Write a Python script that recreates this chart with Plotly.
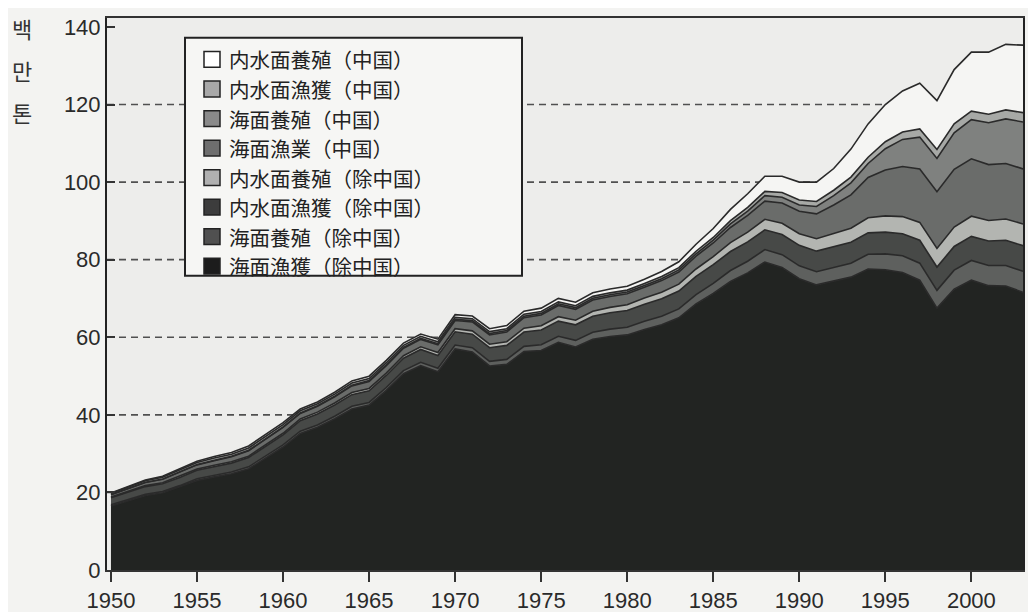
import plotly.graph_objects as go

years = list(range(1950, 2004))

# 海面漁獲(除中国)
marine_capture_nc = [16.5, 17.9, 19.2, 19.9, 21.4, 23.1, 24.0, 24.8, 26.1, 28.9,
                     31.7, 35.2, 36.8, 39.0, 41.5, 42.5, 46.3, 50.6, 52.7, 51.1,
                     57.0, 56.2, 52.6, 53.0, 56.3, 56.6, 58.7, 57.5, 59.5, 60.2,
                     60.6, 62.0, 63.2, 65.0, 68.6, 71.3, 74.4, 76.6, 79.4, 78.0,
                     75.1, 73.5, 74.5, 75.5, 77.6, 77.4, 76.7, 74.7, 67.5, 72.4,
                     74.7, 73.3, 73.2, 71.6]
# 海面養殖(除中国)
mariculture_nc = [0.3, 0.3, 0.3, 0.35, 0.35, 0.4, 0.4, 0.45, 0.5, 0.5,
                  0.55, 0.6, 0.6, 0.65, 0.7, 0.7, 0.75, 0.8, 0.85, 0.9,
                  1.0, 1.1, 1.2, 1.3, 1.35, 1.45, 1.55, 1.7, 1.8, 1.9,
                  2.0, 2.1, 2.2, 2.3, 2.4, 2.6, 2.8, 3.0, 3.2, 3.3,
                  3.3, 3.4, 3.5, 3.6, 3.8, 4.1, 4.3, 4.4, 4.6, 4.9,
                  5.1, 5.2, 5.3, 5.4]
# 内水面漁獲(除中国)
inland_capture_nc = [1.8, 1.9, 2.0, 2.0, 2.1, 2.2, 2.3, 2.3, 2.4, 2.5,
                     2.6, 2.7, 2.8, 2.9, 3.0, 3.0, 3.1, 3.2, 3.3, 3.3,
                     3.4, 3.5, 3.5, 3.6, 3.7, 3.8, 3.9, 4.0, 4.1, 4.2,
                     4.3, 4.4, 4.5, 4.6, 4.7, 4.8, 4.9, 5.0, 5.1, 5.2,
                     5.3, 5.3, 5.4, 5.4, 5.5, 5.6, 5.7, 5.9, 6.0, 6.1,
                     6.2, 6.3, 6.5, 6.6]
# 内水面養殖(除中国)
inland_aqua_nc = [0.2, 0.2, 0.25, 0.25, 0.3, 0.3, 0.3, 0.35, 0.35, 0.4,
                  0.4, 0.45, 0.5, 0.5, 0.55, 0.6, 0.6, 0.65, 0.7, 0.75,
                  0.8, 0.85, 0.9, 0.95, 1.0, 1.1, 1.15, 1.2, 1.3, 1.4,
                  1.5, 1.6, 1.7, 1.8, 1.9, 2.1, 2.3, 2.5, 2.7, 2.9,
                  3.0, 3.2, 3.4, 3.6, 3.9, 4.2, 4.4, 4.6, 4.8, 5.0,
                  5.2, 5.3, 5.5, 5.6]
# 海面漁業(中国)
marine_capture_cn = [0.6, 0.7, 0.8, 0.9, 1.0, 1.1, 1.2, 1.3, 1.4, 1.5,
                     1.5, 1.4, 1.5, 1.6, 1.7, 1.8, 1.9, 1.9, 1.9, 2.0,
                     2.1, 2.3, 2.4, 2.5, 2.7, 2.8, 2.9, 2.8, 2.9, 2.8,
                     2.8, 2.8, 3.0, 3.1, 3.3, 3.5, 3.9, 4.3, 4.7, 5.2,
                     5.8, 6.4, 7.3, 8.6, 10.4, 11.8, 12.9, 13.8, 14.6, 14.9,
                     14.8, 14.4, 14.3, 14.2]
# 海面養殖(中国)
mariculture_cn = [0.05, 0.05, 0.06, 0.07, 0.08, 0.09, 0.1, 0.1, 0.12, 0.13,
                  0.14, 0.15, 0.16, 0.18, 0.2, 0.22, 0.24, 0.26, 0.28, 0.3,
                  0.32, 0.33, 0.35, 0.36, 0.38, 0.4, 0.42, 0.43, 0.44, 0.45,
                  0.45, 0.47, 0.5, 0.55, 0.62, 0.72, 0.9, 1.1, 1.4, 1.5,
                  1.6, 1.9, 2.4, 3.1, 3.6, 5.5, 7.0, 8.2, 8.6, 9.4,
                  10.1, 10.8, 11.5, 12.1]
# 内水面漁獲(中国)
inland_capture_cn = [0.3, 0.35, 0.4, 0.45, 0.5, 0.5, 0.55, 0.55, 0.6, 0.6,
                     0.6, 0.55, 0.5, 0.5, 0.55, 0.55, 0.55, 0.5, 0.5, 0.5,
                     0.5, 0.5, 0.5, 0.5, 0.5, 0.5, 0.5, 0.5, 0.5, 0.5,
                     0.5, 0.5, 0.55, 0.6, 0.65, 0.7, 0.85, 1.0, 1.1, 1.2,
                     1.3, 1.3, 1.4, 1.5, 1.6, 1.8, 1.9, 2.1, 2.3, 2.3,
                     2.2, 2.2, 2.3, 2.4]
# 内水面養殖(中国)
inland_aqua_cn = [0.1, 0.15, 0.2, 0.25, 0.3, 0.35, 0.4, 0.45, 0.5, 0.5,
                  0.5, 0.45, 0.45, 0.5, 0.55, 0.6, 0.6, 0.6, 0.6, 0.65,
                  0.7, 0.7, 0.75, 0.8, 0.8, 0.85, 0.9, 0.9, 0.95, 1.0,
                  1.0, 1.1, 1.3, 1.5, 1.8, 2.3, 2.9, 3.5, 3.9, 4.2,
                  4.6, 5.0, 5.6, 7.2, 8.6, 9.6, 10.6, 11.8, 12.6, 14.0,
                  15.2, 16.0, 16.9, 17.4]

names = ["海面漁獲（除中国）", "海面養殖（除中国）", "内水面漁獲（除中国）", "内水面養殖（除中国）",
         "海面漁業（中国）", "海面養殖（中国）", "内水面漁獲（中国）", "内水面養殖（中国）"]
series = [marine_capture_nc, mariculture_nc, inland_capture_nc, inland_aqua_nc,
          marine_capture_cn, mariculture_cn, inland_capture_cn, inland_aqua_cn]
area_colors = ["#222422", "#5e605e", "#474947", "#b3b5b1",
               "#6a6c6a", "#7f817f", "#a7a9a6", "#f5f5f3"]
swatch_colors = ["#1c1c1c", "#505050", "#3c3c3c", "#b0b0b0",
                 "#6e6e6e", "#8a8a8a", "#a8a8a8", "#ffffff"]
grid_values = [20, 40, 60, 80, 100, 120]
y_ticks = [0, 20, 40, 60, 80, 100, 120, 140]
x_ticks = [1950, 1955, 1960, 1965, 1970, 1975, 1980, 1985, 1990, 1995, 2000]
y_unit_label = ["백", "만", "톤"]

fig = go.Figure()
for name, vals, col in zip(names, series, area_colors):
    fig.add_trace(go.Scatter(
        x=years, y=vals, name=name, stackgroup="one", mode="lines",
        line=dict(color="#2a2a2a", width=1.6), fillcolor=col,
        showlegend=False, hoverinfo="skip"))

# page geometry (browser body has an 8px margin)
OFF = 8
PL, PR, PT, PB = 107, 1023, 15, 574   # plot area in page pixels


def px(xp):
    return (xp - PL) / (PR - PL)


def py(yp):
    return (PB - yp) / (PB - PT)


shapes = []
for g in grid_values:
    shapes.append(dict(type="line", xref="paper", yref="y", x0=0, x1=1, y0=g, y1=g,
                       layer="below", line=dict(color="#505050", width=1.6, dash="7px,5px")))

# manual legend (box, square swatches, labels) — top of stack first
LX0, LX1, LY0, LY1 = 185, 522, 35, 276
shapes.append(dict(type="rect", xref="paper", yref="paper",
                   x0=px(LX0), x1=px(LX1), y0=py(LY1), y1=py(LY0),
                   fillcolor="#f6f6f4", line=dict(color="#222222", width=2), layer="above"))
annotations = []
row0, step = 57, 29.9
legend_items = list(reversed(list(zip(names, swatch_colors))))
for i, (name, col) in enumerate(legend_items):
    cy = row0 + i * step
    shapes.append(dict(type="rect", xref="paper", yref="paper",
                       x0=px(204), x1=px(220), y0=py(cy + 8), y1=py(cy - 8),
                       fillcolor=col, line=dict(color="#222222", width=1.5), layer="above"))
    annotations.append(dict(text=name, xref="paper", yref="paper",
                            x=px(227), y=py(cy), xanchor="left", yanchor="middle",
                            showarrow=False,
                            font=dict(family="Noto Sans CJK JP", size=20.5, color="#222222")))

for ch, yp in zip(y_unit_label, [25, 68, 110]):
    annotations.append(dict(text=ch, xref="paper", yref="paper",
                            x=px(22), y=py(yp), xanchor="center", yanchor="middle",
                            showarrow=False,
                            font=dict(family="Noto Sans CJK KR", size=22, color="#333333")))

fig.update_layout(
    width=1036, height=612,
    margin=dict(l=PL - OFF, r=1036 + OFF - PR, t=PT - OFF, b=612 + OFF - PB),
    paper_bgcolor="#f3f3f1",
    plot_bgcolor="#ededeb",
    showlegend=False,
    shapes=shapes,
    annotations=annotations,
    xaxis=dict(
        range=[1949.77, 2003.0], tickmode="array", tickvals=x_ticks,
        ticks="outside", ticklen=10, tickwidth=1.5, tickcolor="#333333",
        showgrid=False, zeroline=False,
        showline=True, linecolor="#333333", linewidth=1.5, mirror=True,
        tickfont=dict(family="Liberation Sans", size=22, color="#2a2a2a")),
    yaxis=dict(
        range=[0, 142.3], tickmode="array", tickvals=y_ticks,
        ticks="inside", ticklen=8, tickwidth=1.5, tickcolor="#333333",
        showgrid=False, zeroline=False,
        showline=True, linecolor="#222222", linewidth=2, mirror=True,
        tickfont=dict(family="Liberation Sans", size=22, color="#2a2a2a")),
)

fig.write_html("out.html")
